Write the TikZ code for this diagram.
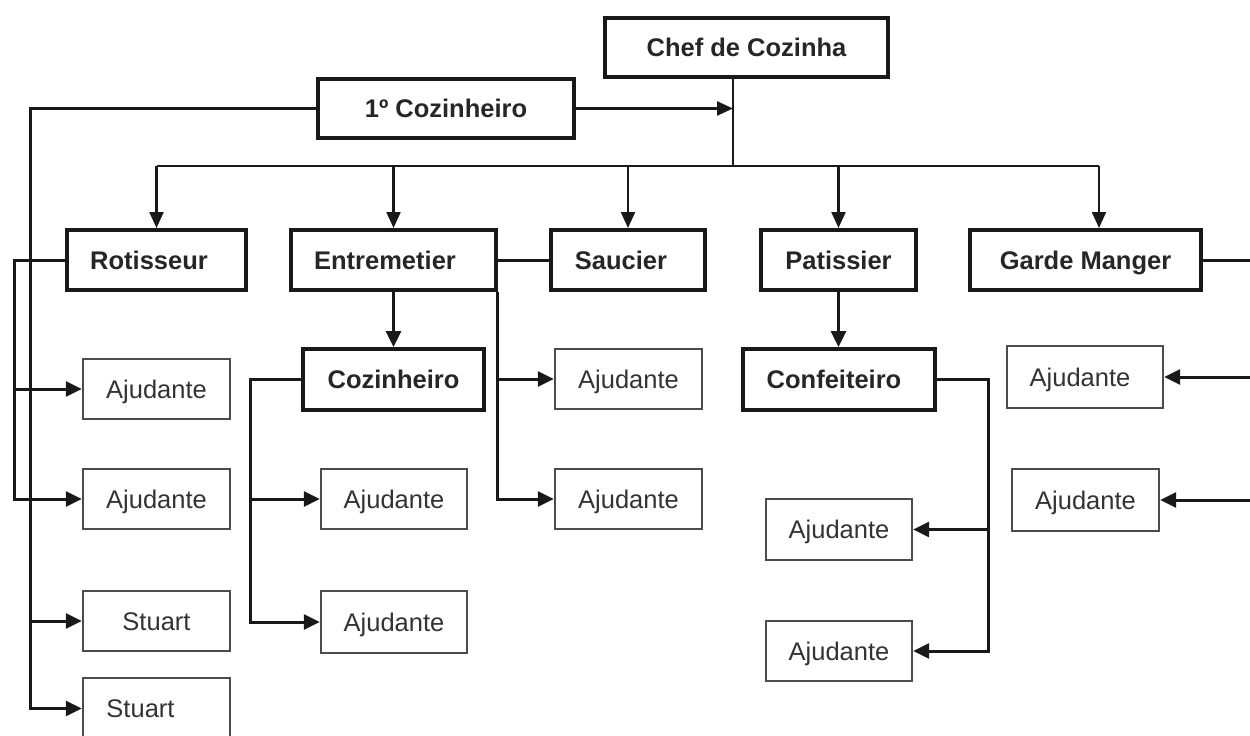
\documentclass[tikz,border=0pt]{standalone}
\usepackage{fontspec}
\setmainfont{Liberation Sans}
\usetikzlibrary{arrows.meta}
\tikzset{
  boxbase/.style={inner sep=0pt, text height=18.3pt, text depth=0pt, font=\fontsize{25.5}{30}\selectfont},
  big/.style={boxbase, draw=black!90, line width=4pt, font=\fontsize{25.5}{30}\selectfont\bfseries, text=black!85},
  small/.style={boxbase, draw=black!70, line width=2.3pt, text=black!80},
  conn/.style={line width=3pt, draw=black!90},
  arr/.style={conn, -{Triangle[length=16pt,width=15pt]}},
  topconn/.style={line width=2.3pt, draw=black!90},
  toparr/.style={topconn, -{Triangle[length=16pt,width=14pt]}}
}
\begin{document}
\begin{tikzpicture}[x=1pt,y=-1pt]
\useasboundingbox[fill=white] (0,0) rectangle (1250,736);

% top level
\node[big, minimum width=283pt, minimum height=59pt] (chef) at (746.5,47.5) {Chef de Cozinha};
\node[big, minimum width=256pt, minimum height=59pt] (cozA) at (446,108.5) {1º Cozinheiro};

% second row
\node[big, minimum width=179pt, minimum height=60pt] (rot) at (156.5,260) {\hspace*{-15pt}Rotisseur};
\node[big, minimum width=205pt, minimum height=60pt] (ent) at (393.5,260) {\hspace*{-17pt}Entremetier};
\node[big, minimum width=154pt, minimum height=60pt] (sau) at (628,260) {\hspace*{-14pt}Saucier};
\node[big, minimum width=155pt, minimum height=60pt] (pat) at (838.5,260) {Patissier};
\node[big, minimum width=231pt, minimum height=60pt] (gar) at (1085.5,260) {Garde Manger};

% third level bold
\node[big, minimum width=181pt, minimum height=61pt] (coz) at (393.5,379.5) {Cozinheiro};
\node[big, minimum width=192pt, minimum height=61pt] (conf) at (839,379.5) {\hspace*{-10pt}Confeiteiro};

% helpers
\node[small, minimum width=147pt, minimum height=60pt] (a1) at (156.5,389) {Ajudante};
\node[small, minimum width=147pt, minimum height=60pt] (a2) at (156.5,499) {Ajudante};
\node[small, minimum width=147pt, minimum height=60pt] (s1) at (156.5,621) {Stuart};
\node[small, minimum width=147pt, minimum height=61pt] (s2) at (156.5,708.5) {\hspace*{-32pt}Stuart};

\node[small, minimum width=146pt, minimum height=60pt] (c1) at (394,499) {Ajudante};
\node[small, minimum width=146pt, minimum height=62pt] (c2) at (394,622) {Ajudante};

\node[small, minimum width=147pt, minimum height=60pt] (e1) at (628.5,379) {Ajudante};
\node[small, minimum width=147pt, minimum height=60pt] (e2) at (628.5,499) {Ajudante};

\node[small, minimum width=146pt, minimum height=61pt] (p1) at (839,529.5) {Ajudante};
\node[small, minimum width=146pt, minimum height=60pt] (p2) at (839,651) {Ajudante};

\node[small, minimum width=156pt, minimum height=62pt] (g1) at (1085,377) {\hspace*{-10pt}Ajudante};
\node[small, minimum width=147pt, minimum height=62pt] (g2) at (1085.5,500) {Ajudante};

% coordinates for free ends / bus lines
\coordinate (hub) at (733,166);
\coordinate (L1) at (30,0);
\coordinate (L2) at (14,0);
\coordinate (L3) at (250,0);
\coordinate (R1) at (988,0);
\coordinate (R2) at (1252,0);
\coordinate (gtop) at (1099,228);

% top tree
\draw[topconn] (chef.south -| hub) -- (hub);
\draw[toparr] (cozA.east) -- (cozA.east -| hub);
\draw[topconn] (rot.north |- hub) -- (gtop |- hub);
\draw[toparr] (rot.north |- hub) -- (rot.north);
\draw[toparr] (ent.north |- hub) -- (ent.north);
\draw[toparr] (sau.north |- hub) -- (sau.north);
\draw[toparr] (pat.north |- hub) -- (pat.north);
\draw[toparr] (gtop |- hub) -- ([xshift=13.5pt]gar.north);

% 1º Cozinheiro to Stuarts
\draw[arr] (cozA.west) -- (L1 |- cozA.west) -- (L1 |- s2.west) -- (s2.west);
\draw[arr] (L1 |- s1.west) -- (s1.west);

% Rotisseur to helpers
\draw[arr] (rot.west) -- (L2 |- rot.west) -- (L2 |- a2.west) -- (a2.west);
\draw[arr] (L2 |- a1.west) -- (a1.west);

% Entremetier
\draw[conn] (ent.east) -- (sau.west);
\draw[arr] (ent.south) -- (ent.south |- coz.north);
\draw[arr] ([xshift=-1pt]ent.south east) -- ([xshift=-1pt]ent.south east |- e2.west) -- (e2.west);
\draw[arr] ([xshift=-1pt]ent.south east |- e1.west) -- (e1.west);

% Cozinheiro
\draw[arr] (coz.west) -- (L3 |- coz.west) -- (L3 |- c2.west) -- (c2.west);
\draw[arr] (L3 |- c1.west) -- (c1.west);

% Patissier / Confeiteiro
\draw[arr] (pat.south) -- (pat.south |- conf.north);
\draw[arr] (conf.east) -- (R1 |- conf.east) -- (R1 |- p2.east) -- (p2.east);
\draw[arr] (R1 |- p1.east) -- (p1.east);

% Garde Manger
\draw[conn] (gar.east) -- (R2 |- gar.east);
\draw[arr] (R2 |- g1.east) -- (g1.east);
\draw[arr] (R2 |- g2.east) -- (g2.east);
\end{tikzpicture}
\end{document}
